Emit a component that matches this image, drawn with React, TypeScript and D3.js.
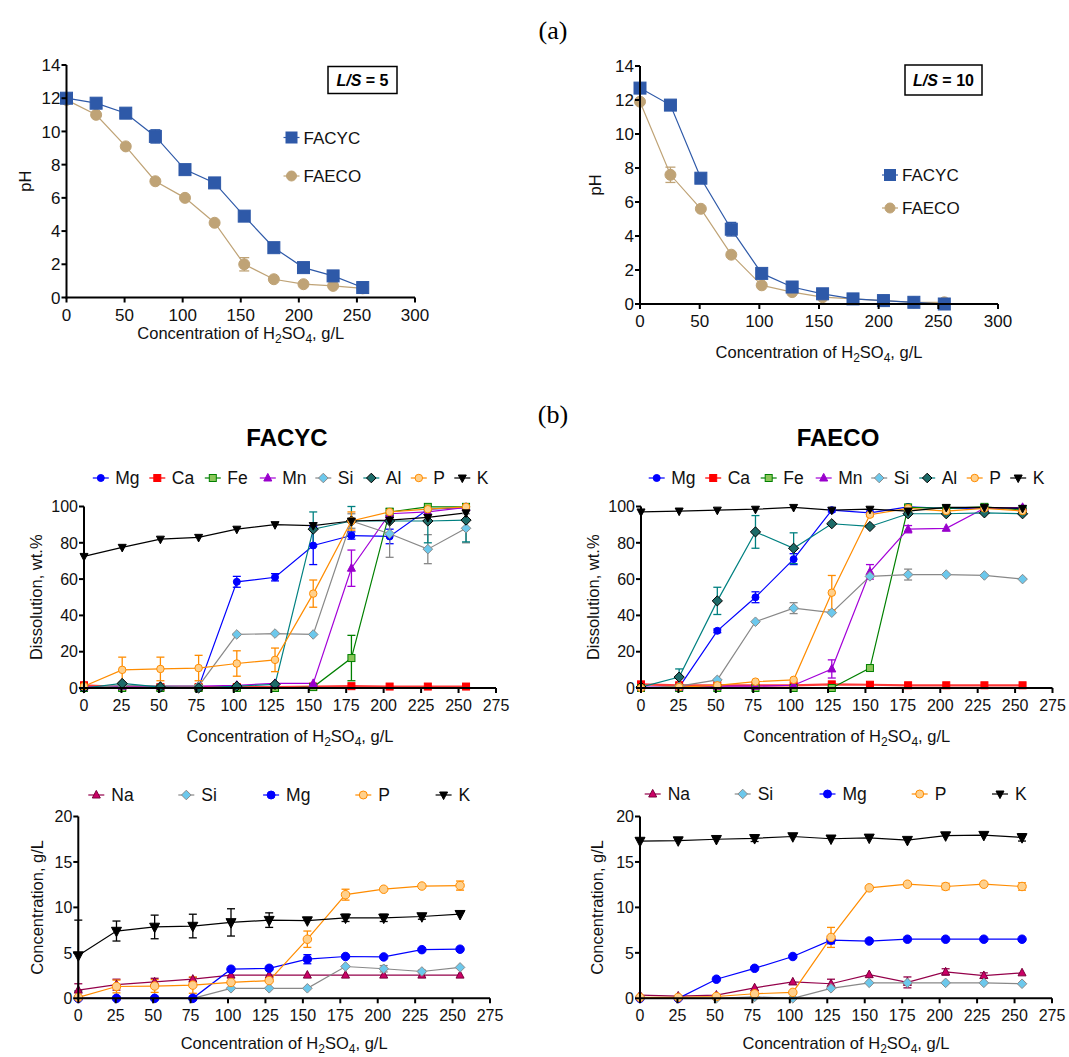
import React from 'react';
import * as d3 from 'd3';

const FONT = '"Liberation Sans", Arial, Helvetica, sans-serif';

// ---------- data ----------
const conc = [0, 25.5, 51, 76.5, 102, 127.5, 153, 178.5, 204, 229.5, 255];

// pH, L/S = 5
const ph5FACYC = [12.0, 11.7, 11.1, 9.7, 7.7, 6.9, 4.9, 3.0, 1.8, 1.3, 0.6];
const ph5FACYCErr = [0, 0, 0, 0.4, 0, 0, 0, 0, 0, 0, 0];
const ph5FAECO = [11.9, 11.0, 9.1, 7.0, 6.0, 4.5, 2.0, 1.1, 0.8, 0.7, 0.55];
const ph5FAECOErr = [0, 0, 0, 0, 0, 0, 0.4, 0, 0, 0, 0];

// pH, L/S = 10
const ph10FACYC = [12.7, 11.7, 7.4, 4.4, 1.8, 1.0, 0.6, 0.3, 0.2, 0.1, 0.0];
const ph10FACYCErr = [0, 0, 0, 0.4, 0, 0, 0, 0, 0, 0, 0];
const ph10FAECO = [11.9, 7.6, 5.6, 2.9, 1.1, 0.7, 0.4, 0.3, 0.2, 0.1, 0.1];
const ph10FAECOErr = [0, 0.45, 0, 0, 0, 0, 0, 0, 0, 0, 0];

// Dissolution FACYC, wt.%
const dcMg = [0.3, 0.2, 0.2, 0.5, 58.5, 61, 78.5, 84, 83.5, 98.5, 99.4];
const dcMgErr = [0, 0, 0, 0, 3, 2, 10.5, 2, 4, 1, 1];
const dcCa = [1.5, 0.5, 0.5, 0.5, 0.5, 0.5, 0.8, 1.0, 0.8, 0.8, 0.8];
const dcFe = [0, 0, 0, 0, 0, 0, 0.5, 16.5, 97, 99.8, 99.8];
const dcFeErr = [0, 0, 0, 0, 0, 0, 0, 12.5, 2, 0, 0];
const dcMn = [0.5, 1, 1, 1, 1.5, 2.5, 2.5, 66, 96, 97, 99.5];
const dcMnErr = [0, 0, 0, 0, 0, 0, 0, 10, 0, 0, 0];
const dcSi = [0, 1.5, 1, 1, 29.5, 30, 29.5, 92, 85, 76.5, 88];
const dcSiErr = [0, 0, 0, 0, 0, 0, 0, 4, 13, 8, 8];
const dcAl = [0, 2.5, 0.5, 0, 1, 2, 87.5, 92, 92, 92, 92.5];
const dcAlErr = [0, 0, 0, 0, 0, 0, 9.5, 8, 0, 12, 12];
const dcP = [1, 10, 10.5, 11, 13.5, 15.5, 52, 92, 97, 98.5, 99.8];
const dcPErr = [0, 7, 6.5, 7, 7, 6.5, 7.5, 5, 0, 0, 0];
const dcK = [72.5, 77.5, 82, 83, 87.5, 90, 89.5, 92, 92.5, 94, 96.5];

// Dissolution FAECO, wt.%
const deMg = [0, 0.5, 31.5, 50, 71, 98, 96.5, 99.8, 99, 99, 99];
const deMgErr = [0, 0, 1, 3, 3, 1, 1, 0, 0, 0, 0];
const deCa = [2, 1.5, 1.5, 1.5, 1.5, 2, 1.8, 1.5, 1.5, 1.5, 1.5];
const deFe = [0, 0, 0, 0, 0, 0, 11, 99.5, 99, 99.8, 98];
const deMn = [0.5, 0.5, 1, 1, 1.5, 10.5, 64, 87.5, 88, 99, 99.5];
const deMnErr = [0, 0, 0, 0, 0, 5, 4, 2, 0, 0, 0];
const deSi = [0, 1, 4.5, 36.5, 44, 41.5, 61.5, 62.5, 62.5, 62, 60];
const deSiErr = [0, 0, 0, 0, 3, 0, 0, 3, 0, 0, 0];
const deAl = [0.5, 6, 48, 86, 77, 90.5, 89, 96, 96, 96.5, 96];
const deAlErr = [0, 4.5, 7.5, 9, 8.5, 0, 0, 0, 0, 0, 0];
const deP = [0, 0.5, 1.5, 3.5, 4.5, 52.5, 95.5, 99, 97.5, 99, 97.5];
const dePErr = [0, 0, 0, 0, 0, 9.5, 1, 0, 0, 0, 1.5];
const deK = [97, 97.5, 98, 98.5, 99.5, 98, 98.5, 97.5, 99.5, 99.5, 99];

// Concentration FACYC, g/L
const ccNa = [0.9, 1.5, 1.8, 2.1, 2.55, 2.55, 2.55, 2.55, 2.55, 2.55, 2.55];
const ccNaErr = [0.7, 0.6, 0.4, 0.2, 0, 0, 0, 0, 0, 0, 0];
const ccSi = [0, 0, 0, 0, 1.1, 1.1, 1.1, 3.5, 3.25, 2.95, 3.4];
const ccSiErr = [0, 0, 0, 0, 0, 0, 0, 0, 0.35, 0.15, 0];
const ccMg = [0, 0, 0, 0, 3.2, 3.3, 4.3, 4.6, 4.55, 5.35, 5.4];
const ccMgErr = [0, 0, 0, 0, 0, 0, 0.5, 0, 0, 0, 0];
const ccP = [0.1, 1.3, 1.35, 1.45, 1.75, 1.95, 6.5, 11.4, 12.0, 12.35, 12.4];
const ccPErr = [0, 0.7, 0.7, 0.9, 0, 0, 0.9, 0.6, 0, 0, 0.5];
const ccK = [4.7, 7.4, 7.85, 7.95, 8.35, 8.6, 8.55, 8.85, 8.85, 9.0, 9.25];
const ccKErr = [3.9, 1.1, 1.3, 1.3, 1.5, 0.8, 0, 0.4, 0.4, 0.3, 0];

// Concentration FAECO, g/L
const ceNa = [0.35, 0.25, 0.35, 1.15, 1.8, 1.6, 2.6, 1.75, 2.9, 2.5, 2.8];
const ceNaErr = [0, 0, 0, 0, 0, 0.5, 0, 0.6, 0.35, 0.3, 0];
const ceSi = [0, 0, 0, 0.15, 0, 1.1, 1.7, 1.7, 1.7, 1.7, 1.6];
const ceMg = [0, 0, 2.1, 3.3, 4.6, 6.4, 6.3, 6.5, 6.5, 6.5, 6.5];
const ceMgErr = [0, 0, 0, 0, 0, 0.4, 0, 0, 0, 0, 0];
const ceP = [0.1, 0.1, 0.2, 0.5, 0.65, 6.7, 12.15, 12.55, 12.3, 12.55, 12.3];
const cePErr = [0, 0, 0, 0, 0, 1.1, 0, 0, 0.35, 0, 0.4];
const ceK = [17.3, 17.35, 17.5, 17.6, 17.8, 17.55, 17.65, 17.4, 17.9, 17.95, 17.7];
const ceKErr = [0, 0, 0, 0.35, 0, 0, 0, 0, 0, 0, 0.4];

const phTicksX = [0, 50, 100, 150, 200, 250, 300];
const phTicksY = [0, 2, 4, 6, 8, 10, 12, 14];
const dTicksX = [0, 25, 50, 75, 100, 125, 150, 175, 200, 225, 250, 275];
const dTicksY = [0, 20, 40, 60, 80, 100];
const cTicksY = [0, 5, 10, 15, 20];

// ---------- styles ----------
type Kind = 'circle' | 'square' | 'diamond' | 'triUp' | 'triDown';
interface Style { color: string; lw: number; kind: Kind; fill: string; stroke: string; size: number; }
interface Series extends Style { name: string; values: number[]; err?: number[]; }

const sFACYC: Style = { color: '#2E59A8', lw: 1.2, kind: 'square', fill: '#2E59A8', stroke: '#2E59A8', size: 12 };
const sFAECO: Style = { color: '#BFA376', lw: 1.2, kind: 'circle', fill: '#BFA376', stroke: '#BFA376', size: 11 };

const st: Record<string, Style> = {
  Mg: { color: '#0000FF', lw: 1.2, kind: 'circle', fill: '#0000FF', stroke: '#0000FF', size: 7 },
  Ca: { color: '#FF3B3B', lw: 2.2, kind: 'square', fill: '#FF0000', stroke: '#FF0000', size: 7 },
  Fe: { color: '#008000', lw: 1.2, kind: 'square', fill: '#8CC65A', stroke: '#008000', size: 7 },
  Mn: { color: '#A300D8', lw: 1.2, kind: 'triUp', fill: '#9900CC', stroke: '#9900CC', size: 8 },
  Si: { color: '#888888', lw: 1.2, kind: 'diamond', fill: '#6CC8EC', stroke: '#8A8A8A', size: 8 },
  Al: { color: '#008080', lw: 1.2, kind: 'diamond', fill: '#1D6B68', stroke: '#000000', size: 8.5 },
  P: { color: '#FF8C00', lw: 1.2, kind: 'circle', fill: '#FFD08C', stroke: '#FF8C00', size: 7.5 },
  K: { color: '#000000', lw: 1.2, kind: 'triDown', fill: '#000000', stroke: '#000000', size: 8 },
  Na: { color: '#94004A', lw: 1.2, kind: 'triUp', fill: '#CC0066', stroke: '#7A003C', size: 8 },
};

const mk = (name: string, values: number[], err?: number[], over?: Partial<Style>): Series => ({ name, values, err, ...st[name], ...(over || {}) });

const dissFACYC: Series[] = [
  mk('Mg', dcMg, dcMgErr), mk('Ca', dcCa), mk('Fe', dcFe, dcFeErr), mk('Mn', dcMn, dcMnErr),
  mk('Si', dcSi, dcSiErr), mk('Al', dcAl, dcAlErr), mk('P', dcP, dcPErr), mk('K', dcK),
];
const dissFAECO: Series[] = [
  mk('Mg', deMg, deMgErr), mk('Ca', deCa), mk('Fe', deFe), mk('Mn', deMn, deMnErr),
  mk('Si', deSi, deSiErr), mk('Al', deAl, deAlErr), mk('P', deP, dePErr), mk('K', deK),
];
const big = { size: 8.5 };
const concFACYC: Series[] = [
  mk('Na', ccNa, ccNaErr), mk('Si', ccSi, ccSiErr), mk('Mg', ccMg, ccMgErr, big), mk('P', ccP, ccPErr, big), mk('K', ccK, ccKErr, { size: 10 }),
];
const concFAECO: Series[] = [
  mk('Na', ceNa, ceNaErr), mk('Si', ceSi), mk('Mg', ceMg, ceMgErr, big), mk('P', ceP, cePErr, big), mk('K', ceK, ceKErr, { size: 10 }),
];

// ---------- drawing helpers ----------
function Marker({ s, x, y }: { s: Style; x: number; y: number }) {
  const h = s.size / 2;
  const common = { fill: s.fill, stroke: s.stroke, strokeWidth: 1 };
  switch (s.kind) {
    case 'circle':
      return <circle cx={x} cy={y} r={h} {...common} />;
    case 'square':
      return <rect x={x - h} y={y - h} width={s.size} height={s.size} {...common} />;
    case 'diamond': {
      const d = h * 1.2;
      return <polygon points={`${x},${y - d} ${x + d},${y} ${x},${y + d} ${x - d},${y}`} {...common} />;
    }
    case 'triUp':
      return <polygon points={`${x},${y - h * 1.15} ${x + h},${y + h * 0.75} ${x - h},${y + h * 0.75}`} {...common} />;
    case 'triDown':
      return <polygon points={`${x},${y + h * 1.15} ${x + h},${y - h * 0.75} ${x - h},${y - h * 0.75}`} {...common} />;
  }
  return null;
}

function XTitle({ x, y }: { x: number; y: number }) {
  return (
    <text x={x} y={y} textAnchor="middle" fontFamily={FONT} fontSize={16.5} fill="#111">
      <tspan>Concentration of H</tspan>
      <tspan dy={4} fontSize={12}>2</tspan>
      <tspan dy={-4}>SO</tspan>
      <tspan dy={4} fontSize={12}>4</tspan>
      <tspan dy={-4}>, g/L</tspan>
    </text>
  );
}

interface PanelProps {
  xr: [number, number]; yr: [number, number];
  xMax: number; yMax: number; xTicks: number[]; yTicks: number[];
  series: Series[]; tickFont: number;
  yTitle: string; yTitleX: number; xTitleY: number;
  capW: number;
}

function Panel(p: PanelProps) {
  const x = d3.scaleLinear().domain([0, p.xMax]).range(p.xr);
  const y = d3.scaleLinear().domain([0, p.yMax]).range(p.yr);
  const line = d3.line<number>().x((_, i) => x(conc[i])).y((v) => y(v));
  const [x0, x1] = p.xr;
  const [y0, y1] = p.yr;
  const axisW = 2;
  const tl = 5;
  return (
    <g>
      {p.series.map((s) => (
        <path key={'l' + s.name} d={line(s.values) || ''} fill="none" stroke={s.color} strokeWidth={s.lw} />
      ))}
      {p.series.map((s) =>
        (s.err || []).map((e, i) => {
          if (!e) return null;
          const cx = x(conc[i]);
          const top = y(Math.min(p.yMax, s.values[i] + e));
          const bot = y(Math.max(0, s.values[i] - e));
          const c = s.color;
          return (
            <g key={'e' + s.name + i} stroke={c} strokeWidth={1.3}>
              <line x1={cx} x2={cx} y1={top} y2={bot} />
              <line x1={cx - p.capW / 2} x2={cx + p.capW / 2} y1={top} y2={top} />
              <line x1={cx - p.capW / 2} x2={cx + p.capW / 2} y1={bot} y2={bot} />
            </g>
          );
        })
      )}
      {p.series.map((s) =>
        s.values.map((v, i) => <Marker key={'m' + s.name + i} s={s} x={x(conc[i])} y={y(v)} />)
      )}
      <line x1={x0 - axisW / 2} x2={x1} y1={y0} y2={y0} stroke="#000" strokeWidth={axisW} />
      <line x1={x0} x2={x0} y1={y0 + axisW / 2} y2={y1} stroke="#000" strokeWidth={axisW} />
      {p.xTicks.map((t) => (
        <g key={'xt' + t}>
          <line x1={x(t)} x2={x(t)} y1={y0} y2={y0 + tl} stroke="#000" strokeWidth={axisW} />
          <text x={x(t)} y={y0 + 23} textAnchor="middle" fontFamily={FONT} fontSize={p.tickFont} fill="#111">{t}</text>
        </g>
      ))}
      {p.yTicks.map((t) => (
        <g key={'yt' + t}>
          <line x1={x0 - tl} x2={x0} y1={y(t)} y2={y(t)} stroke="#000" strokeWidth={axisW} />
          <text x={x0 - 6} y={y(t)} dy="0.36em" textAnchor="end" fontFamily={FONT} fontSize={p.tickFont} fill="#111">{t}</text>
        </g>
      ))}
      <text transform={`translate(${p.yTitleX},${(y0 + y1) / 2}) rotate(-90)`} dy="0.36em" textAnchor="middle" fontFamily={FONT} fontSize={16.5} fill="#111">{p.yTitle}</text>
      <XTitle x={(x0 + x1) / 2} y={p.xTitleY} />
    </g>
  );
}

function RowLegend({ series, x0, y, offsets, textDx, fontSize }: { series: Series[]; x0: number; y: number; offsets: number[]; textDx: number; fontSize: number }) {
  return (
    <g>
      {series.map((s, i) => {
        const mx = x0 + offsets[i];
        return (
          <g key={'lg' + s.name}>
            <line x1={mx - 8} x2={mx + 8} y1={y} y2={y} stroke={s.color} strokeWidth={Math.min(s.lw, 1.6)} />
            <Marker s={{ ...s, size: Math.min(s.size, 8) }} x={mx} y={y} />
            <text x={mx + textDx} y={y} dy="0.36em" fontFamily={FONT} fontSize={fontSize} fill="#111">{s.name}</text>
          </g>
        );
      })}
    </g>
  );
}

function PhLegend({ x, ys }: { x: number; ys: [number, number] }) {
  const items: [string, Style][] = [['FACYC', sFACYC], ['FAECO', sFAECO]];
  return (
    <g>
      {items.map(([n, s], i) => (
        <g key={n}>
          <line x1={x - 8} x2={x + 8} y1={ys[i]} y2={ys[i]} stroke={s.color} strokeWidth={1.2} />
          <Marker s={{ ...s, size: s.kind === 'square' ? 11 : 10 }} x={x} y={ys[i]} />
          <text x={x + 12} y={ys[i]} dy="0.36em" fontFamily={FONT} fontSize={17} fill="#111">{n}</text>
        </g>
      ))}
    </g>
  );
}

function LSBox({ x, y, w, h, v }: { x: number; y: number; w: number; h: number; v: string }) {
  return (
    <g>
      <rect x={x} y={y} width={w} height={h} fill="#fff" stroke="#000" strokeWidth={1.5} />
      <text x={x + w / 2} y={y + h / 2} dy="0.36em" textAnchor="middle" fontFamily={FONT} fontSize={16} fontWeight="bold" fill="#000">
        <tspan fontStyle="italic">L/S</tspan>
        <tspan> = {v}</tspan>
      </text>
    </g>
  );
}

function phSeries(a: number[], ae: number[], b: number[], be: number[]): Series[] {
  return [
    { name: 'FAECO', values: b, err: be, ...sFAECO },
    { name: 'FACYC', values: a, err: ae, ...sFACYC },
  ];
}

const dissOffsets = [0, 56.5, 112, 167, 222.5, 270.5, 318, 361.5];
const concOffsets = [0, 90, 174.8, 267, 347.3];

export default function App() {
  return (
    <svg width={1069} height={1057} viewBox="0 0 1069 1057" style={{ position: 'absolute', left: 0, top: 0, background: '#fff' }}>
      <rect x={0} y={0} width={1069} height={1057} fill="#fff" />
      <text x={553} y={39} textAnchor="middle" fontFamily='"Liberation Serif", "Times New Roman", serif' fontSize={26} fill="#000">(a)</text>
      <text x={553} y={423} textAnchor="middle" fontFamily='"Liberation Serif", "Times New Roman", serif' fontSize={26} fill="#000">(b)</text>
      <text x={287} y={446} textAnchor="middle" fontFamily={FONT} fontSize={24} fontWeight="bold" fill="#000">FACYC</text>
      <text x={838} y={446} textAnchor="middle" fontFamily={FONT} fontSize={24} fontWeight="bold" fill="#000">FAECO</text>

      {/* pH L/S = 5 */}
      <Panel xr={[66.5, 415]} yr={[297.5, 65]} xMax={300} yMax={14} xTicks={phTicksX} yTicks={phTicksY}
        series={phSeries(ph5FACYC, ph5FACYCErr, ph5FAECO, ph5FAECOErr)} tickFont={17}
        yTitle="pH" yTitleX={25} xTitleY={339} capW={10} />
      <PhLegend x={291.5} ys={[137.5, 176]} />
      <LSBox x={328} y={66.5} w={69} h={27} v="5" />

      {/* pH L/S = 10 */}
      <Panel xr={[640, 998]} yr={[304, 66]} xMax={300} yMax={14} xTicks={phTicksX} yTicks={phTicksY}
        series={phSeries(ph10FACYC, ph10FACYCErr, ph10FAECO, ph10FAECOErr)} tickFont={17}
        yTitle="pH" yTitleX={595} xTitleY={358} capW={10} />
      <PhLegend x={890} ys={[175, 208]} />
      <LSBox x={905} y={65} w={77} h={30} v="10" />

      {/* Dissolution */}
      <Panel xr={[84, 496]} yr={[688, 506.5]} xMax={275} yMax={100} xTicks={dTicksX} yTicks={dTicksY}
        series={dissFACYC} tickFont={16} yTitle="Dissolution, wt.%" yTitleX={36} xTitleY={742} capW={8} />
      <RowLegend series={dissFACYC} x0={100.8} y={478} offsets={dissOffsets} textDx={14.5} fontSize={17.5} />
      <Panel xr={[641, 1052.5]} yr={[688, 506.5]} xMax={275} yMax={100} xTicks={dTicksX} yTicks={dTicksY}
        series={dissFAECO} tickFont={16} yTitle="Dissolution, wt.%" yTitleX={593} xTitleY={742} capW={8} />
      <RowLegend series={dissFAECO} x0={656.7} y={478} offsets={dissOffsets} textDx={14.5} fontSize={17.5} />

      {/* Concentration */}
      <Panel xr={[78.3, 490]} yr={[998.3, 816.5]} xMax={275} yMax={20} xTicks={dTicksX} yTicks={cTicksY}
        series={concFACYC} tickFont={16} yTitle="Concentration, g/L" yTitleX={37} xTitleY={1049} capW={8} />
      <RowLegend series={concFACYC} x0={96.3} y={795} offsets={concOffsets} textDx={15} fontSize={17.5} />
      <Panel xr={[640, 1052]} yr={[998.3, 816.5]} xMax={275} yMax={20} xTicks={dTicksX} yTicks={cTicksY}
        series={concFAECO} tickFont={16} yTitle="Concentration, g/L" yTitleX={597} xTitleY={1049} capW={8} />
      <RowLegend series={concFAECO} x0={652.7} y={794} offsets={concOffsets} textDx={15} fontSize={17.5} />
    </svg>
  );
}
